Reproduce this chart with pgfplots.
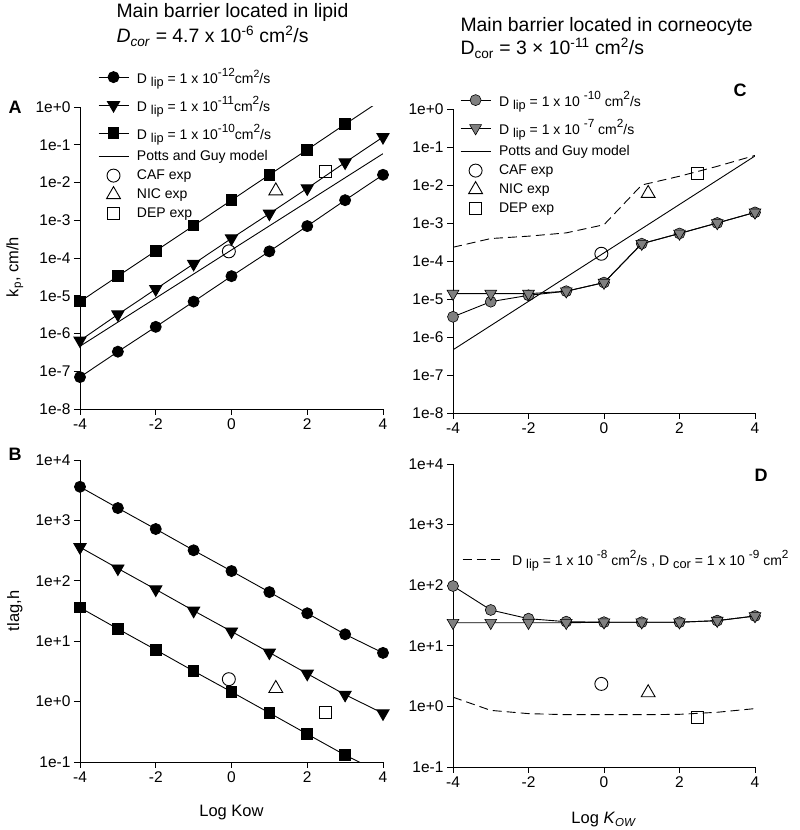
\documentclass[border=0pt]{standalone}
\usepackage{pgfplots}
\pgfplotsset{compat=1.18}
\usepackage{fontspec}
\setmainfont{Liberation Sans}

\newcommand{\fs}[1]{\fontsize{#1}{#1}\selectfont}
% legend sub/superscripts, larger than the defaults
\newcommand{\lsb}[1]{\raisebox{-3.5pt}{\fs{12.8}#1}}
\newcommand{\lsp}[1]{\raisebox{6.5pt}{\fs{11.8}#1}}
\newcommand{\sq}{\raisebox{6pt}{\fs{10.5}2}}
\newcommand{\stD}{\rule[-8pt]{0pt}{28pt}}
\newcommand{\stN}{\rule[-5.5pt]{0pt}{19pt}}

\pgfplotsset{
  panel/.style={
    scale only axis, width=303pt, height=302pt,
    anchor=south west,
    xmin=-4, xmax=4,
    axis x line*=bottom, axis y line*=left,
    axis line style={line width=0.9pt},
    tick align=outside, major tick length=6pt,
    major tick style={line width=0.9pt, black},
    minor tick length=0pt, minor tick style={draw=none},
    xtick={-4,-2,0,2,4}, xticklabels={-4,-2,0,2,4},
    tick label style={font=\fs{15.5}},
    label style={font=\fs{16.5}},
    clip mode=individual,
    legend style={draw=none, fill=none, inner sep=0pt, row sep=0pt,
      font=\fs{14}, cells={anchor=west},
      nodes={inner sep=0pt, text depth=},
      /tikz/every odd column/.append style={column sep=8pt}},
    legend image code/.code={\draw[mark repeat=2,mark phase=2,##1]
      plot coordinates {(0pt,0pt) (15pt,0pt) (30pt,0pt)};},
  },
  kpaxis/.style={ymin=1e-8, ymax=1,
    ytick={1e-8,1e-7,1e-6,1e-5,1e-4,1e-3,1e-2,1e-1,1},
    yticklabels={1e-8,1e-7,1e-6,1e-5,1e-4,1e-3,1e-2,1e-1,1e+0}},
  tlaxis/.style={ymin=1e-1, ymax=1e4,
    ytick={1e-1,1,1e1,1e2,1e3,1e4},
    yticklabels={1e-1,1e+0,1e+1,1e+2,1e+3,1e+4}},
  bcirc/.style={black, line width=0.9pt, mark=*, mark size=5.5pt,
    mark options={solid, fill=black}},
  btri/.style={black, line width=0.9pt, mark=triangle*, mark size=7pt,
    mark options={solid, fill=black, rotate=180}},
  bsq/.style={black, line width=0.9pt, mark=square*, mark size=5.3pt,
    mark options={solid, fill=black}},
  gcirc/.style={black, line width=0.9pt, mark=*, mark size=5.5pt,
    mark options={solid, fill=gray, line width=0.6pt}},
  gtri/.style={black, line width=0.9pt, mark=triangle*, mark size=6.8pt,
    mark options={solid, fill=gray, rotate=180, line width=0.6pt}},
  ecirc/.style={black, only marks, mark=o, mark size=6.5pt, mark options={line width=0.9pt}},
  etri/.style={black, only marks, mark=triangle, mark size=8pt, mark options={line width=0.9pt}},
  esq/.style={black, only marks, mark=square, mark size=6pt, mark options={line width=0.9pt}},
  potts/.style={black, line width=0.9pt, no marks},
  dsh/.style={black, line width=0.9pt, no marks, dash pattern=on 9pt off 5pt},
}

\begin{document}
\begin{tikzpicture}[x=1pt,y=1pt]
\useasboundingbox (0,0) rectangle (800,830);

% ---------------- A ----------------
\begin{axis}[ymode=log, panel, kpaxis, at={(80pt,421pt)},
  ylabel={k\textsubscript{p}, cm/h},
  ylabel style={at={(axis description cs:-0.215,0.47)}, anchor=center},
  legend style={at={(0.059,1.146)}, anchor=north west}]
\addplot[bcirc] coordinates {(-4,7e-8)(-3,3.3e-7)(-2,1.5e-6)(-1,7e-6)(0,3.3e-5)(1,1.5e-4)(2,7e-4)(3,3.4e-3)(4,1.6e-2)};
\addlegendentry{\stD D \lsb{lip} = 1 x 10\lsp{-12}cm\sq/s}
\addplot[btri] coordinates {(-4,6.5e-7)(-3,3.2e-6)(-2,1.5e-5)(-1,7e-5)(0,3.3e-4)(1,1.5e-3)(2,7e-3)(3,3.4e-2)(4,1.6e-1)};
\addlegendentry{\stD D \lsb{lip} = 1 x 10\lsp{-11}cm\lsp{2}/s}
\addplot[bsq] coordinates {(-4,7e-6)(-3,3.3e-5)(-2,1.54e-4)(-1,7.2e-4)(0,3.4e-3)(1,1.6e-2)(2,7.4e-2)(3,0.35)};
\addlegendentry{\stD D \lsb{lip} = 1 x 10\lsp{-10}cm\lsp{2}/s}
\addplot[potts, forget plot] coordinates {(3,0.35)(4,1.63)};
\addplot[potts] coordinates {(-4,4.6e-7)(4,5.8e-2)};
\addlegendentry{\stN Potts and Guy model}
\addplot[ecirc] coordinates {(-0.07,1.5e-4)};
\addlegendentry{\stN CAF exp}
\addplot[etri] coordinates {(1.17,6e-3)};
\addlegendentry{\stN NIC exp}
\addplot[esq] coordinates {(2.47,2e-2)};
\addlegendentry{\stN DEP exp}
\end{axis}

% ---------------- B ----------------
\begin{axis}[ymode=log, panel, tlaxis, at={(80pt,68pt)},
  ylabel={tlag,h}, xlabel={Log Kow},
  ylabel style={at={(axis description cs:-0.215,0.5)}, anchor=center},
  xlabel style={at={(axis description cs:0.5,-0.182)}, anchor=base}]
\addplot[bcirc] coordinates {(-4,3600)(-3,1600)(-2,720)(-1,320)(0,145)(1,65)(2,29)(3,13)(4,6.4)};
\addplot[btri] coordinates {(-4,360)(-3,160)(-2,72)(-1,32)(0,14.5)(1,6.5)(2,2.9)(3,1.3)(4,0.64)};
\addplot[bsq] coordinates {(-4,36)(-3,16)(-2,7.2)(-1,3.2)(0,1.45)(1,0.65)(2,0.29)(3,0.13)};
\addplot[potts] coordinates {(3,0.13)(4,0.064)};
\addplot[ecirc] coordinates {(-0.07,2.35)};
\addplot[etri] coordinates {(1.17,1.65)};
\addplot[esq] coordinates {(2.47,0.67)};
\end{axis}

% ---------------- C ----------------
\begin{axis}[ymode=log, panel, kpaxis, at={(453pt,417pt)}, width=302pt, height=304pt,
  legend style={at={(0.023,1.076)}, anchor=north west}]
\addplot[gcirc] coordinates {(-4,3.4e-6)(-3,8.5e-6)(-2,1.25e-5)(-1,1.6e-5)(0,2.7e-5)(1,2.85e-4)(2,5.3e-4)(3,1e-3)(4,1.9e-3)};
\addlegendentry{\stD D \lsb{lip} = 1 x 10 \lsp{-10} cm\lsp{2}/s}
\addplot[gtri] coordinates {(-4,1.38e-5)(-3,1.38e-5)(-2,1.38e-5)(-1,1.6e-5)(0,2.7e-5)(1,2.85e-4)(2,5.3e-4)(3,1e-3)(4,1.9e-3)};
\addlegendentry{\stD D \lsb{lip} = 1 x 10 \lsp{-7} cm\lsp{2}/s}
\addplot[potts] coordinates {(-4,4.6e-7)(4,5.8e-2)};
\addlegendentry{\stN Potts and Guy model}
\addplot[ecirc] coordinates {(-0.07,1.55e-4)};
\addlegendentry{\stN CAF exp}
\addplot[etri] coordinates {(1.17,6e-3)};
\addlegendentry{\stN NIC exp}
\addplot[esq] coordinates {(2.47,2e-2)};
\addlegendentry{\stN DEP exp}
\addplot[dsh, forget plot] coordinates {(-4,2.3e-4)(-3,3.9e-4)(-2,4.5e-4)(-1,5.5e-4)(0,9e-4)(1,1e-2)(2,1.7e-2)(3,3.1e-2)(4,6e-2)};
\end{axis}

% ---------------- D ----------------
\begin{axis}[ymode=log, panel, tlaxis, at={(453pt,63pt)}, width=302pt, height=303pt,
  xlabel={Log \textit{K}\textsubscript{\textit{OW}}},
  xlabel style={at={(axis description cs:0.5,-0.188)}, anchor=base},
  legend style={at={(0.03,0.686)}, anchor=west,
    /tikz/every odd column/.append style={column sep=11pt}},
  legend image code/.code={\draw[#1] (0pt,0pt) -- (38pt,0pt);}]
\addplot[dsh] coordinates {(-4,1.42)(-3,0.86)(-2,0.76)(-1,0.73)(0,0.73)(1,0.73)(2,0.74)(3,0.8)(4,0.92)};
\addlegendentry{\stD D \lsb{lip} = 1 x 10 \lsp{-8} cm\lsp{2}/s , D \lsb{cor} = 1 x 10 \lsp{-9} cm\lsp{2}}
\addplot[gcirc, forget plot] coordinates {(-4,97)(-3,39)(-2,28)(-1,25)(0,24.5)(1,24.5)(2,24.5)(3,26)(4,31)};
\addplot[gtri, forget plot] coordinates {(-4,24)(-3,24)(-2,24)(-1,24)(0,24.5)(1,24.5)(2,24.5)(3,26)(4,31)};
\addplot[ecirc, forget plot] coordinates {(-0.07,2.35)};
\addplot[etri, forget plot] coordinates {(1.17,1.68)};
\addplot[esq, forget plot] coordinates {(2.47,0.66)};
\end{axis}

% titles and panel letters
\node[anchor=base west, font=\fs{19.4}] at (113,812) {Main barrier located in lipid};
\node[anchor=base west, font=\fs{19.4}] at (113,787) {\textit{D}\textsubscript{\textit{cor}} = 4.7 x 10\textsuperscript{-6} cm\textsuperscript{2}/s};
\node[anchor=base west, font=\fs{19.4}] at (457,798) {Main barrier located in corneocyte};
\node[anchor=base west, font=\fs{19.4}] at (457,775) {D\textsubscript{cor} = 3 × 10\textsuperscript{-11} cm\textsuperscript{2}/s};
\node[font=\bfseries\fs{18}] at (15,723) {A};
\node[font=\bfseries\fs{18}] at (15,376) {B};
\node[font=\bfseries\fs{18}] at (740,740) {C};
\node[font=\bfseries\fs{18}] at (761,355) {D};
\end{tikzpicture}
\end{document}
